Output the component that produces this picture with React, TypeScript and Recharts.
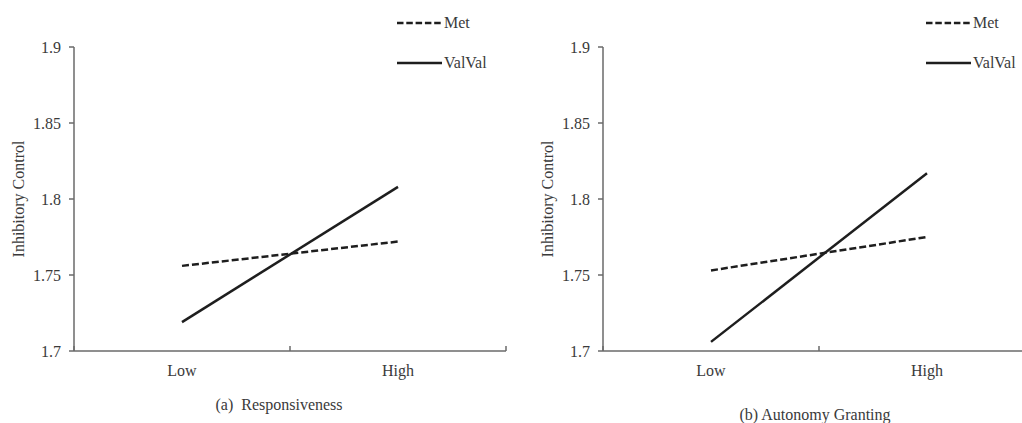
// Inhibitory control by parenting level, two panels (Met vs ValVal)
import React from 'react';
import { LineChart, Line, XAxis, YAxis, Legend } from 'recharts';

const categories = ['Low', 'High'];
const seriesNames = ['Met', 'ValVal'];

const responsivenessMet = [1.756, 1.772];
const responsivenessValVal = [1.719, 1.808];
const autonomyMet = [1.753, 1.775];
const autonomyValVal = [1.706, 1.817];

const yTicks = [1.7, 1.75, 1.8, 1.85, 1.9];
// band edges (0,1,2) get tick marks, band centres (0.5,1.5) get labels
const xTicks = [0, 0.5, 1, 1.5, 2];

const FONT = '"Liberation Serif", "Times New Roman", serif';
const TEXT = '#3a3a3a';
const AXIS = '#6a6a6a';
const INK = '#1e1e1e';

function buildRows(met: number[], valval: number[]) {
  return categories.map(function (name, i) {
    return { pos: i + 0.5, name, Met: met[i], ValVal: valval[i] };
  });
}

function XTick({ x, y, payload }: any) {
  const v = payload.value;
  if (Number.isInteger(v)) {
    return <line x1={x} x2={x} y1={y} y2={y - 5} stroke={AXIS} strokeWidth={1.5} />;
  }
  return (
    <text x={x} y={y + 25} textAnchor="middle" fill={TEXT} fontSize={16} fontFamily={FONT}>
      {categories[Math.floor(v)]}
    </text>
  );
}

function LegendBox() {
  return (
    <div style={{ fontFamily: FONT, fontSize: 16, color: TEXT }}>
      {seriesNames.map(function (name, i) {
        return (
          <div key={name} style={{ display: 'flex', alignItems: 'center', height: 24, marginBottom: i === 0 ? 16 : 0 }}>
            <svg width={46} height={10} style={{ display: 'block' }}>
              <line
                x1={0}
                x2={45}
                y1={5}
                y2={5}
                stroke={INK}
                strokeWidth={2.5}
                strokeDasharray={i === 0 ? '6.5 2.8' : undefined}
              />
            </svg>
            <span style={{ marginLeft: 1 }}>{name}</span>
          </div>
        );
      })}
    </div>
  );
}

interface PanelProps {
  met: number[];
  valval: number[];
  left: number;
}

function Panel({ met, valval, left }: PanelProps) {
  const data = buildRows(met, valval);
  return (
    <div style={{ position: 'absolute', left, top: 0 }}>
      <LineChart width={520} height={423} data={data} margin={{ top: 47, right: 14, bottom: 32, left: 0 }}>
        <XAxis
          dataKey="pos"
          type="number"
          domain={[0, 2]}
          ticks={xTicks}
          interval={0}
          height={40}
          tickSize={0}
          tickMargin={0}
          tickLine={false}
          axisLine={{ stroke: AXIS, strokeWidth: 1.5 }}
          tick={<XTick />}
        />
        <YAxis
          type="number"
          domain={[1.7, 1.9]}
          ticks={yTicks}
          interval={0}
          width={74}
          tickSize={5}
          tickMargin={8}
          axisLine={{ stroke: AXIS, strokeWidth: 1.5 }}
          tickLine={{ stroke: AXIS, strokeWidth: 1.5 }}
          tick={{ fill: TEXT, fontSize: 16, fontFamily: FONT }}
          label={{
            value: 'Inhibitory Control',
            angle: -90,
            position: 'insideLeft',
            offset: 18,
            style: { textAnchor: 'middle', fill: TEXT, fontSize: 16, fontFamily: FONT },
          }}
        />
        <Legend
          layout="vertical"
          align="center"
          verticalAlign="middle"
          wrapperStyle={{ top: 11, left: 397, width: 'auto' }}
          content={<LegendBox />}
        />
        <Line
          dataKey="Met"
          type="linear"
          stroke={INK}
          strokeWidth={2.5}
          strokeDasharray="7 3"
          dot={false}
          isAnimationActive={false}
        />
        <Line
          dataKey="ValVal"
          type="linear"
          stroke={INK}
          strokeWidth={2.5}
          dot={false}
          isAnimationActive={false}
        />
      </LineChart>
    </div>
  );
}

export default function App() {
  const caption: React.CSSProperties = {
    position: 'absolute',
    fontFamily: FONT,
    fontSize: 16,
    color: TEXT,
    whiteSpace: 'pre',
    transform: 'translateX(-50%)',
    lineHeight: '18px',
  };
  return (
    <div
      style={{
        position: 'absolute',
        left: 0,
        top: 0,
        width: 1022,
        height: 423,
        overflow: 'hidden',
        background: '#fff',
      }}
    >
      <Panel met={responsivenessMet} valval={responsivenessValVal} left={0} />
      <Panel met={autonomyMet} valval={autonomyValVal} left={529} />
      <div style={{ ...caption, left: 279, top: 396 }}>{'(a)  Responsiveness'}</div>
      <div style={{ ...caption, left: 815, top: 406 }}>{'(b) Autonomy Granting'}</div>
    </div>
  );
}
